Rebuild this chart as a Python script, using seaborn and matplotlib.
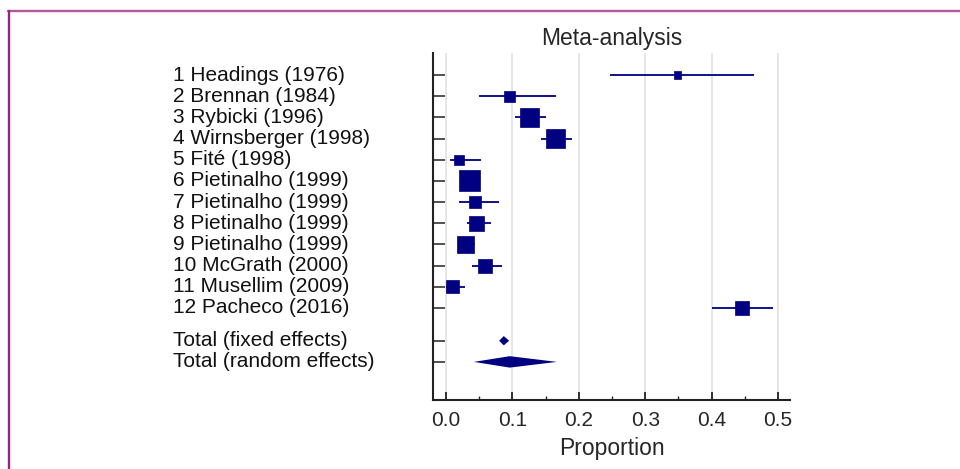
"""
Forest plot of pooled proportions (meta-analysis), seaborn + matplotlib.
"""

import numpy as np
import pandas as pd
import matplotlib
matplotlib.use("Agg")
import matplotlib.pyplot as plt
from matplotlib.lines import Line2D
from matplotlib.ticker import AutoMinorLocator
import matplotlib.transforms as mtransforms
import seaborn as sns

# Study level data
studies = [
    "1 Headings (1976)", "2 Brennan (1984)", "3 Rybicki (1996)",
    "4 Wirnsberger (1998)", "5 Fité (1998)", "6 Pietinalho (1999)",
    "7 Pietinalho (1999)", "8 Pietinalho (1999)", "9 Pietinalho (1999)",
    "10 McGrath (2000)", "11 Musellim (2009)", "12 Pacheco (2016)",
]
proportion = [0.349, 0.095, 0.125, 0.165, 0.020, 0.035, 0.043, 0.046, 0.029, 0.059, 0.0095, 0.446]
ci_low = [0.247, 0.050, 0.104, 0.143, 0.006, 0.026, 0.020, 0.031, 0.020, 0.039, 0.000, 0.401]
ci_high = [0.464, 0.165, 0.150, 0.190, 0.053, 0.045, 0.080, 0.067, 0.044, 0.085, 0.029, 0.492]
weight_pct = [1.9, 4.6, 13.6, 13.6, 3.8, 16.6, 5.4, 8.5, 10.9, 7.4, 6.4, 7.4]

# Pooled estimates
total_labels = ["Total (fixed effects)", "Total (random effects)"]
total_estimate = [0.087, 0.096]
total_low = [0.080, 0.042]
total_high = [0.095, 0.167]

x_ticks = [0.0, 0.1, 0.2, 0.3, 0.4, 0.5]

NAVY = "#000080"


def forest_plot(out_path="out.png"):
    sns.set_style("white")
    plt.rcParams["font.family"] = ["Liberation Sans", "DejaVu Sans"]

    df = pd.DataFrame({
        "study": studies, "p": proportion, "lo": ci_low, "hi": ci_high, "w": weight_pct,
    })
    df["pos"] = np.arange(1, len(df) + 1)
    total_pos = len(df) + 1.55 + np.arange(len(total_labels))

    fig = plt.figure(figsize=(9.6, 4.69), dpi=100)
    ax = fig.add_axes([433 / 960, 1 - 400 / 469, (790 - 433) / 960, (400 - 53) / 469])

    # confidence intervals
    ax.hlines(df["pos"], df["lo"], df["hi"], color="#10108a", lw=1.4, zorder=2)

    # weighted square markers (area proportional to weight)
    k = 13.77
    wmin, wmax = df["w"].min(), df["w"].max()
    sns.scatterplot(data=df, x="p", y="pos", size="w", sizes=(wmin * k, wmax * k),
                    size_norm=(wmin, wmax), marker="s", color=NAVY, edgecolor=NAVY,
                    linewidth=0.5, legend=False, ax=ax, zorder=3)

    # pooled diamonds
    half_heights = [0.22, 0.27]
    for est, lo, hi, y, hh in zip(total_estimate, total_low, total_high, total_pos, half_heights):
        ax.fill([lo, est, hi, est], [y, y - hh, y, y + hh], color=NAVY, lw=0, zorder=3)

    ax.set_xlim(-0.0196, 0.518)
    ax.set_ylim(len(df) + 4.35, -0.04)

    # axes styling
    for side in ["top", "right"]:
        ax.spines[side].set_visible(False)
    for side in ["left", "bottom"]:
        ax.spines[side].set_color("#222222")
        ax.spines[side].set_linewidth(1.5)

    ax.set_xticks(x_ticks)
    ax.set_xticklabels([f"{t:.1f}" for t in x_ticks], fontsize=15)
    ax.xaxis.set_minor_locator(AutoMinorLocator(2))
    ax.tick_params(axis="x", which="major", direction="in", length=5.8, width=1.3,
                   color="#222222", pad=8, bottom=True)
    ax.tick_params(axis="x", which="minor", direction="in", length=3, width=1,
                   color="#222222", bottom=True)

    all_pos = list(df["pos"]) + list(total_pos)
    ax.set_yticks(all_pos)
    ax.set_yticklabels([])
    ax.tick_params(axis="y", direction="in", length=8.6, width=1.1, color="#222222", left=True)

    ax.xaxis.grid(True, color="#e2e2e2", lw=1.2)
    ax.set_axisbelow(True)

    # left-aligned row labels
    trans = mtransforms.blended_transform_factory(fig.transFigure, ax.transData)
    for label, y in zip(list(df["study"]) + total_labels, all_pos):
        ax.text(173 / 960, y, label, transform=trans, ha="left", va="center",
                fontsize=15, color="#111111")

    ax.set_title("Meta-analysis", fontsize=16.5, pad=6)
    ax.set_xlabel("Proportion", fontsize=16.5, labelpad=5)
    ax.set_ylabel("")

    # frame lines from the source page
    fig.add_artist(Line2D([8 / 960, 1], [1 - 11 / 469] * 2, color="#b05a98", lw=1.7))
    fig.add_artist(Line2D([9 / 960] * 2, [0, 1 - 11 / 469], color="#92267a", lw=1.7))

    fig.savefig(out_path, dpi=100)
    plt.close(fig)
    return out_path


if __name__ == "__main__":
    forest_plot("out.png")
